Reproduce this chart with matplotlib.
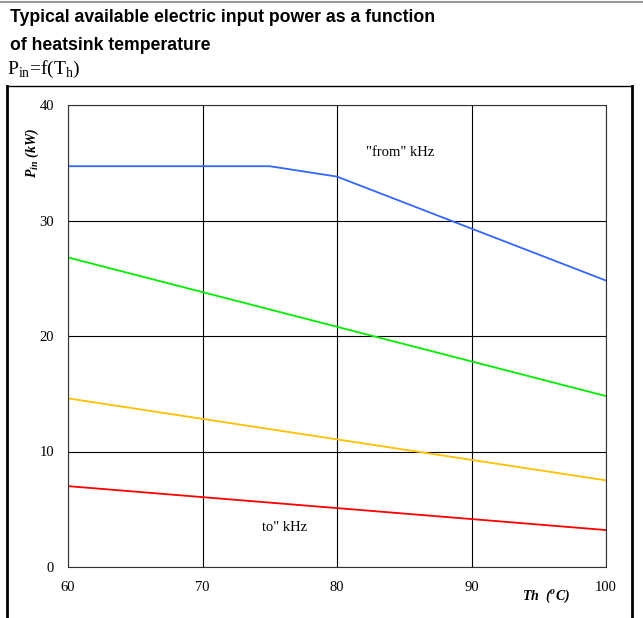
import matplotlib
matplotlib.use("Agg")
import matplotlib.pyplot as plt
from matplotlib.lines import Line2D

# heatsink temperature (degC) and available input power (kW)
th_blue = [60, 75, 80, 100]
p_blue = [34.7, 34.7, 33.8, 24.8]
th_lin = [60, 100]
p_green = [26.8, 14.8]
p_yellow = [14.6, 7.5]
p_red = [7.0, 3.2]

x_ticks = [60, 70, 80, 90, 100]
y_ticks = [0, 10, 20, 30, 40]

fig = plt.figure(figsize=(6.43, 6.18), dpi=100)

# titles
fig.text(10 / 643, 1 - 18 / 618, "Typical available electric input power as a function",
         family="Liberation Sans", weight="bold", fontsize=12.7, va="center", ha="left")
fig.text(10 / 643, 1 - 45 / 618, "of heatsink temperature",
         family="Liberation Sans", weight="bold", fontsize=12.7, va="center", ha="left")
fig.text(7 / 643, 1 - 69 / 618, r"P$_{\mathregular{in}}$=f(T$_{\mathregular{h}}$)",
         family="Liberation Serif", fontsize=14, va="center", ha="left")

# frame lines
fig.add_artist(Line2D([0, 1], [1 - 2 / 618, 1 - 2 / 618], color="#999999", lw=1.5,
                      transform=fig.transFigure))
fig.add_artist(Line2D([7 / 643, 632 / 643], [1 - 86 / 618, 1 - 86 / 618], color="black", lw=1,
                      transform=fig.transFigure))
fig.add_artist(Line2D([7 / 643, 7 / 643], [0, 1 - 86 / 618], color="black", lw=2,
                      transform=fig.transFigure))
fig.add_artist(Line2D([632 / 643, 632 / 643], [0, 1 - 86 / 618], color="black", lw=2,
                      transform=fig.transFigure))

ax = fig.add_axes([68 / 643, 1 - 567 / 618, (606 - 68) / 643, (567 - 105) / 618])

ax.plot(th_blue, p_blue, color="#3366ff", lw=1.3)
ax.plot(th_lin, p_green, color="#00ee00", lw=1.3)
ax.plot(th_lin, p_yellow, color="#ffc000", lw=1.3)
ax.plot(th_lin, p_red, color="#ff0000", lw=1.3)

ax.set_xlim(60, 100)
ax.set_ylim(0, 40)
ax.set_xticks(x_ticks)
ax.set_yticks(y_ticks)
ax.grid(True, color="black", lw=0.8)
ax.set_axisbelow(True)
for s in ax.spines.values():
    s.set_color("#333333")
    s.set_linewidth(0.8)
ax.tick_params(length=0, labelsize=10.5)
ax.tick_params(axis="x", pad=10)
ax.tick_params(axis="y", pad=10)
for lab in ax.get_xticklabels() + ax.get_yticklabels():
    lab.set_family("Liberation Serif")

ax.text(84.7, 35.9, '"from" kHz', family="Liberation Serif", fontsize=10.5, ha="center", va="center")
ax.text(76.1, 3.45, 'to" kHz', family="Liberation Serif", fontsize=10.5, ha="center", va="center")

fig.text(546 / 643, 1 - 596 / 618, r"Th  ($^{\mathregular{o}}$C)", family="Liberation Serif",
         style="italic", weight="bold", fontsize=10, ha="center", va="center")
fig.text(32 / 643, 1 - 153 / 618, r"P$_{\mathregular{in}}$ (kW)", family="Liberation Serif",
         style="italic", weight="bold", fontsize=10, ha="center", va="center", rotation=90)

fig.savefig("out.png", dpi=100)
